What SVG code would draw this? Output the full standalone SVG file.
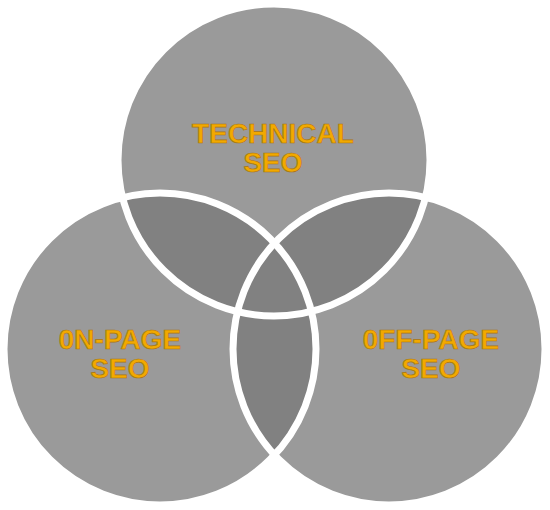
<svg xmlns="http://www.w3.org/2000/svg" width="550" height="510" viewBox="0 0 550 510">
<style>
.c{fill:#9a9a9a}
.x{fill:#818181}
.o{fill:none;stroke:#ffffff;stroke-width:7}
.t{font-family:"Liberation Sans",Arial,sans-serif;font-weight:bold;font-size:28px;fill:#f2a900;stroke:#a87512;stroke-width:0.7;text-anchor:middle}
</style>
<defs>
<circle id="cT" cx="274" cy="160" r="156"/>
<circle id="cL" cx="160" cy="349" r="156"/>
<circle id="cR" cx="389" cy="349" r="156"/>
<clipPath id="clipT"><use href="#cT"/></clipPath>
<clipPath id="clipL"><use href="#cL"/></clipPath>
<clipPath id="clipR"><use href="#cR"/></clipPath>
</defs>
<rect width="550" height="510" fill="#ffffff"/>
<g id="fills">
<use href="#cT" class="c"/>
<use href="#cL" class="c"/>
<use href="#cR" class="c"/>
<g clip-path="url(#clipT)"><use href="#cL" class="x"/><use href="#cR" class="x"/></g>
<g clip-path="url(#clipL)"><use href="#cR" class="x"/></g>
</g>
<g id="technical">
<use href="#cT" class="o"/>
<text class="t" x="273" y="143">TECHNICAL</text>
<text class="t" x="273" y="172">SEO</text>
</g>
<g id="onpage">
<use href="#cL" class="o"/>
<text class="t" x="120" y="349">0N-PAGE</text>
<text class="t" x="120" y="378">SEO</text>
</g>
<g id="offpage">
<use href="#cR" class="o"/>
<text class="t" x="431" y="349">0FF-PAGE</text>
<text class="t" x="431" y="378">SEO</text>
</g>
<g id="connectors"></g>
</svg>
